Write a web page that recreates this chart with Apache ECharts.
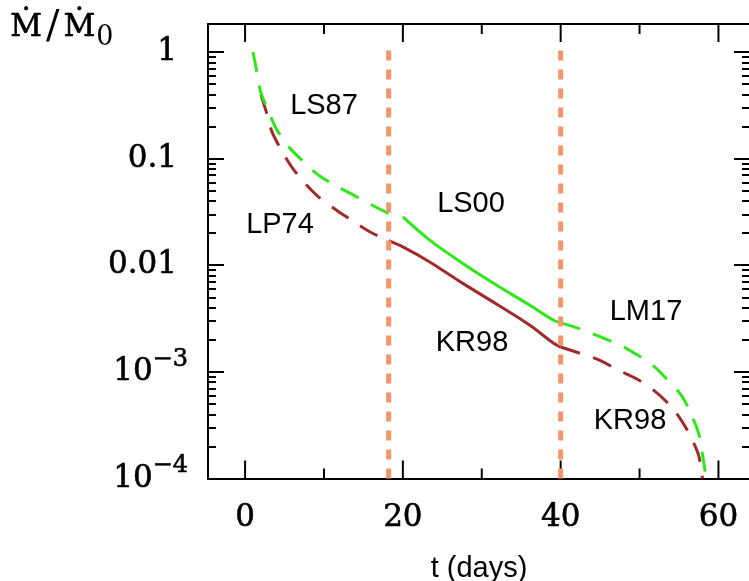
<!DOCTYPE html>
<html>
<head>
<meta charset="utf-8">
<script src="https://cdn.jsdelivr.net/npm/echarts@6/dist/echarts.min.js"></script>
<style>
  html, body { margin: 0; background: #fff; }
  #chart { width: 749px; height: 581px; }
</style>
</head>
<body>
<div id="chart"></div>
<script>
// values: t in days, Mdot/Mdot0
var ls87T = [1.0, 1.5, 2.0, 3.0, 4.0, 5.7, 7.2, 9.3, 11.4, 13.7, 15.9, 18.2]
var ls87Y = [1.0, 0.646, 0.417, 0.275, 0.188, 0.125, 0.0968, 0.070, 0.0564, 0.0457, 0.0373, 0.0305]

var ls00T = [20.0, 23.4, 27.6, 31.9, 36.1, 39.1, 40.0]
var ls00Y = [0.0284, 0.0172, 0.0104, 0.00649, 0.00421, 0.00305, 0.00288]

var lm17T = [40.0, 42.6, 44.9, 47.4, 49.6, 51.7, 53.4, 55.3, 56.5, 57.5, 57.9, 58.35, 58.45]
var lm17Y = [0.00288, 0.00251, 0.00215, 0.00180, 0.00146, 0.00115, 0.000863, 0.000603, 0.000407, 0.000263, 0.000182, 0.000112, 0.0001]

var lp74T = [2.0, 2.75, 3.4, 4.6, 5.9, 7.6, 9.3, 11.6, 13.5, 15.8, 18.2]
var lp74Y = [0.398, 0.265, 0.179, 0.120, 0.0838, 0.0585, 0.0438, 0.0328, 0.0265, 0.0206, 0.0170]

var kr98T = [18.2, 20.0, 23.4, 27.6, 31.9, 36.1, 39.1, 40.0]
var kr98Y = [0.0170, 0.01486, 0.01074, 0.00676, 0.00431, 0.002735, 0.001854, 0.00171]

var kr98LateT = [40.0, 42.6, 44.9, 47.4, 49.6, 51.7, 53.8, 55.3, 56.5, 57.5, 57.9, 58.0]
var kr98LateY = [0.00171, 0.00148, 0.00129, 0.00103, 0.000863, 0.000681, 0.000490, 0.000351, 0.000245, 0.000164, 0.000107, 0.0001]

// orange dashed dividers
var dividerT = [18.2, 40]
var dividerY = [0.0001, 1.16]

// axis ticks
var xMajor = [0, 20, 40, 60]
var xMinor = [10, 30, 50]
var yMajor = [0.0001, 0.001, 0.01, 0.1, 1]
var yMinor = []
yMajor.forEach(function (d) {
  for (var k = 2; k <= 9; k++) {
    if (k * d < 1.83) yMinor.push(k * d)
  }
})

var GREEN = '#2ee81a'
var RED = '#a02b2b'
var ORANGE = '#f7956a'
var DASH = [20, 14]

var xMin = -4.7
var xMax = 64
var yMin = 0.0001
var yMax = 1.83

function pairs(ts, ys) {
  return ts.map(function (t, i) { return [t, ys[i]] })
}

function curve(name, ts, ys, color, dashed) {
  return {
    name: name,
    type: 'line',
    data: pairs(ts, ys),
    showSymbol: false,
    symbol: 'none',
    smooth: 0.3,
    silent: true,
    lineStyle: { color: color, width: 3, type: dashed ? DASH : 'solid' }
  }
}

function divider(t) {
  return {
    type: 'line',
    data: [[t, dividerY[0]], [t, dividerY[1]]],
    showSymbol: false,
    symbol: 'none',
    silent: true,
    z: 5,
    lineStyle: { color: ORANGE, width: 5, type: [10, 9] }
  }
}

// x ticks on the bottom and top frame, pointing inward
function xTicks(ticks, len) {
  return {
    type: 'custom',
    silent: true,
    data: ticks.map(function (t) { return [t, yMin] }),
    renderItem: function (params, api) {
      var b = api.coord([api.value(0), yMin])
      var t = api.coord([api.value(0), yMax])
      var st = { stroke: '#000', lineWidth: 2 }
      return {
        type: 'group',
        children: [
          { type: 'line', shape: { x1: b[0], y1: b[1], x2: b[0], y2: b[1] - len }, style: st },
          { type: 'line', shape: { x1: t[0], y1: t[1], x2: t[0], y2: t[1] + len }, style: st }
        ]
      }
    }
  }
}

var axisBlack = { color: '#000', width: 2 }

function xAxis(pos) {
  var main = pos === 'bottom'
  return {
    type: 'value',
    position: pos,
    min: xMin,
    max: xMax,
    axisLine: { show: true, onZero: false, lineStyle: axisBlack },
    axisTick: { show: false },
    axisLabel: main ? {
      show: true,
      customValues: xMajor,
      margin: 24,
      fontFamily: 'DejaVu Serif',
      fontSize: 31,
      color: '#000',
      textBorderColor: '#000',
      textBorderWidth: 0.6
    } : { show: false },
    splitLine: { show: false },
    name: main ? 't (days)' : '',
    nameLocation: 'middle',
    nameGap: 76,
    nameTextStyle: { fontFamily: 'Liberation Sans', fontSize: 29, color: '#000' }
  }
}

var supLabels = { '-4': '{n|10}{s|\u22124}', '-3': '{n|10}{s|\u22123}', '-2': '{p|0.01}', '-1': '{p|0.1}', '0': '{p|1}' }

var serif = { fontFamily: 'DejaVu Serif', color: '#000', textBorderColor: '#000', textBorderWidth: 0.6 }

function yAxis(pos, ticks, len, main) {
  return {
    type: 'log',
    logBase: 10,
    position: pos,
    min: yMin,
    max: yMax,
    axisLine: { show: main, onZero: false, lineStyle: axisBlack },
    axisTick: { show: true, inside: true, length: len, customValues: ticks, lineStyle: axisBlack },
    axisLabel: pos === 'left' && main ? {
      show: true,
      customValues: yMajor,
      margin: 20,
      formatter: function (v) {
        return supLabels[String(Math.round(Math.log10(v)))]
      },
      rich: {
        n: Object.assign({ fontSize: 31 }, serif),
        p: Object.assign({ fontSize: 31, padding: [0, 11, 0, 0] }, serif),
        s: Object.assign({ fontSize: 24, padding: [0, 0, 25, 0] }, serif)
      }
    } : { show: false },
    splitLine: { show: false }
  }
}

var chart = echarts.init(document.getElementById('chart'))
chart.setOption({
  animation: false,
  backgroundColor: '#fff',
  grid: { left: 208, top: 24, width: 542, height: 454.5, outerBoundsMode: 'none', containLabel: false },
  xAxis: [xAxis('bottom'), xAxis('top')],
  yAxis: [
    yAxis('left', yMajor, 16, true),
    yAxis('left', yMinor, 8, false),
    yAxis('right', yMajor, 16, true),
    yAxis('right', yMinor, 8, false)
  ],
  graphic: [
    {
      type: 'text', left: 10, top: 8,
      style: {
        text: '{m|\u1E40}{sl|/}{m|\u1E40}{sub|0}',
        rich: {
          m: { fontFamily: 'DejaVu Serif', fontSize: 31, fill: '#000', stroke: '#000', lineWidth: 0.6 },
          sl: { fontFamily: 'DejaVu Serif', fontSize: 40, fill: '#000', padding: [0, 4, 0, 4] },
          sub: { fontFamily: 'DejaVu Serif', fontSize: 27, fill: '#000', padding: [20, 0, 0, 1] }
        }
      }
    },
    { type: 'text', x: 324, y: 106, style: { text: 'LS87', align: 'center', verticalAlign: 'middle', font: '29px "Liberation Sans"', fill: '#000' } },
    { type: 'text', x: 280, y: 225, style: { text: 'LP74', align: 'center', verticalAlign: 'middle', font: '29px "Liberation Sans"', fill: '#000' } },
    { type: 'text', x: 471, y: 204, style: { text: 'LS00', align: 'center', verticalAlign: 'middle', font: '29px "Liberation Sans"', fill: '#000' } },
    { type: 'text', x: 472, y: 343, style: { text: 'KR98', align: 'center', verticalAlign: 'middle', font: '29px "Liberation Sans"', fill: '#000' } },
    { type: 'text', x: 646, y: 312, style: { text: 'LM17', align: 'center', verticalAlign: 'middle', font: '29px "Liberation Sans"', fill: '#000' } },
    { type: 'text', x: 630, y: 421, style: { text: 'KR98', align: 'center', verticalAlign: 'middle', font: '29px "Liberation Sans"', fill: '#000' } }
  ],
  series: [
    xTicks(xMajor, 18),
    xTicks(xMinor, 10),
    curve('LP74', lp74T, lp74Y, RED, true),
    curve('KR98', kr98T, kr98Y, RED, false),
    curve('KR98 late', kr98LateT, kr98LateY, RED, true),
    curve('LS87', ls87T, ls87Y, GREEN, true),
    curve('LS00', ls00T, ls00Y, GREEN, false),
    curve('LM17', lm17T, lm17Y, GREEN, true),
    divider(dividerT[0]),
    divider(dividerT[1])
  ]
})
</script>
</body>
</html>
